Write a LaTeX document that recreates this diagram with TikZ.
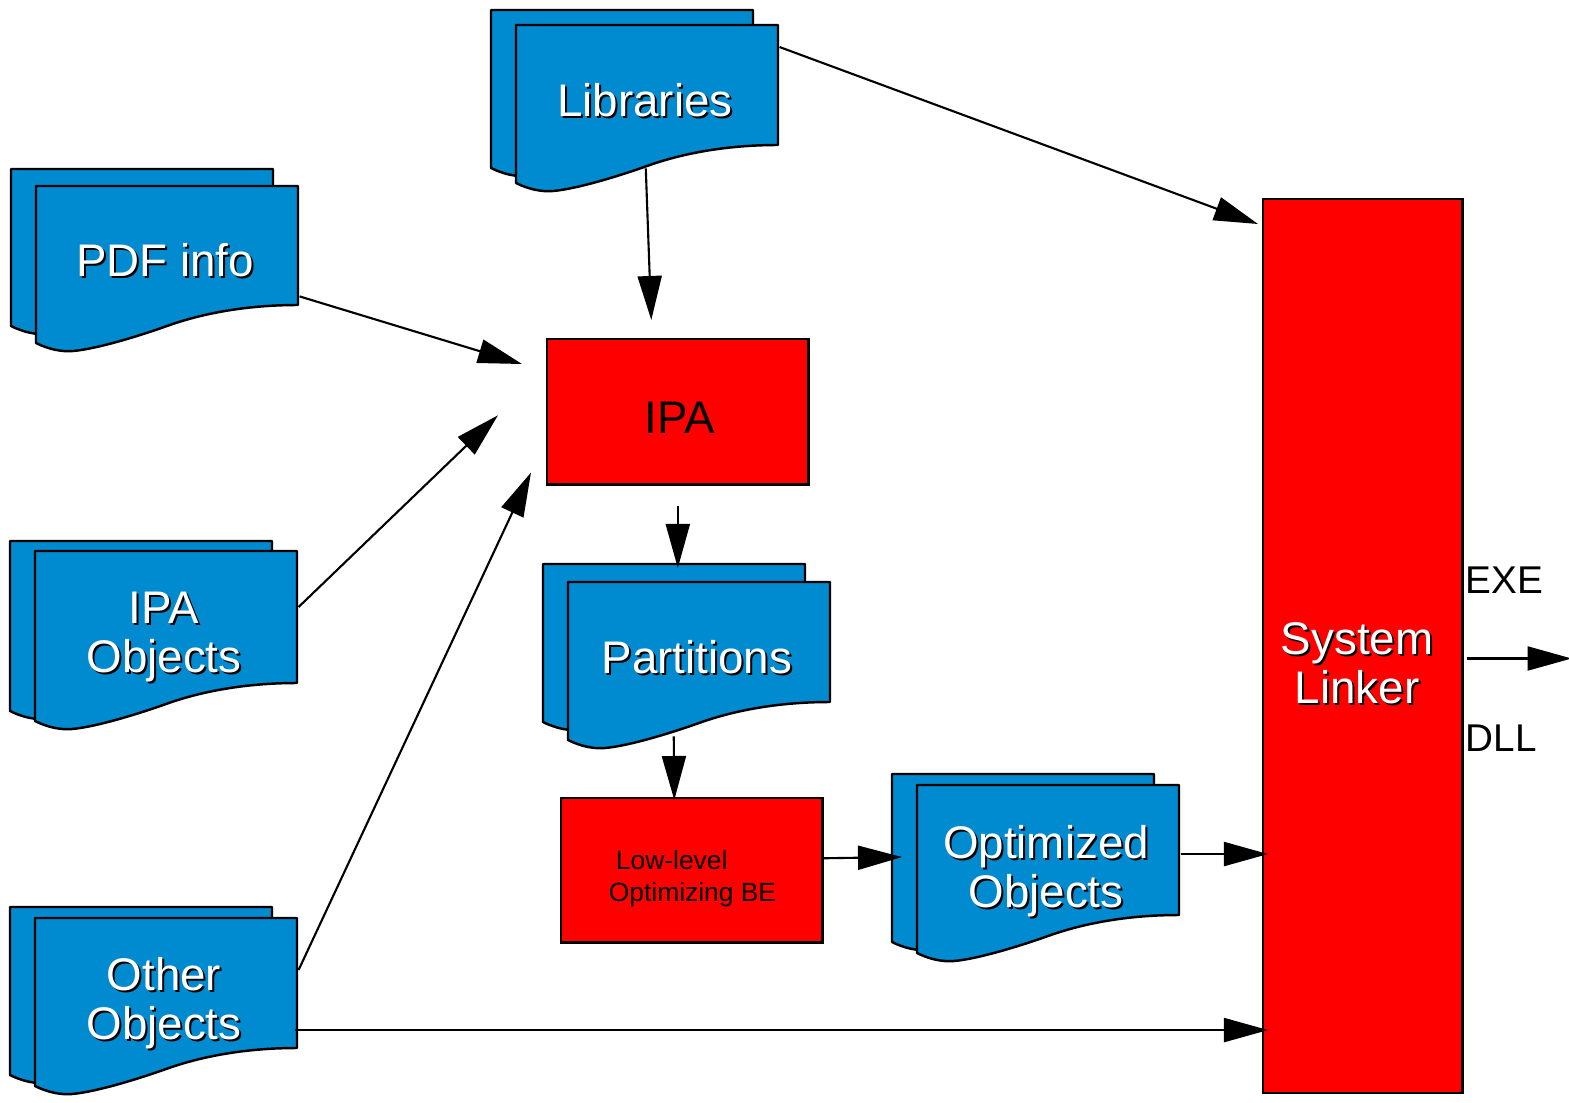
\documentclass[tikz,border=0pt]{standalone}
\usepackage{fontspec}
\setmainfont{Liberation Sans}
\usepackage{tikz}
\usetikzlibrary{arrows.meta}
\definecolor{docblue}{RGB}{0,138,207}

\newcommand{\SheetPath}[1]{(0,0) -- (262,0) -- (262,#1)
  .. controls (215,#1) and (170,#1+7) .. (131,#1+21)
  .. controls (100,#1+32) and (60,#1+44) .. (37,#1+46)
  .. controls (25,#1+47) and (12,#1+44) .. (0,#1+38) -- cycle}

\newcommand{\DocStack}[7]{%
  \begin{scope}[shift={(#2,#3)}]
    \draw[SheetStyle,shift={(-25,-#5)}] \SheetPath{#4};
    \draw[SheetStyle] \SheetPath{#4};
    \node[inner sep=0pt,minimum width=2.62cm,minimum height=#4*0.01cm,anchor=north west] (#1) at (0,0) {};
    \node[ShadowStyle] at (131,#6+2) {#7};
    \node[LabelStyle] (#1-label) at (129,#6) {#7};
  \end{scope}}

\begin{document}
\begin{tikzpicture}[x=0.01cm,y=-0.01cm]
  \tikzstyle{SheetStyle}=[draw=black,fill=docblue,line width=0.7pt,line join=round]
  \tikzstyle{LabelStyle}=[white,align=center,font=\fontsize{13}{14}\selectfont,inner sep=0pt]
  \tikzstyle{ShadowStyle}=[LabelStyle,black]
  \tikzstyle{BoxStyle}=[draw=black,fill=red,line width=0.7pt,inner sep=0pt,anchor=north west]
  \tikzstyle{EdgeStyle}=[line width=0.6pt,-{Triangle[length=0.44cm,width=0.24cm]}]
  \useasboundingbox (0,0) rectangle (1569,1103);
  \DocStack{lib}{516}{25}{120}{15}{75}{Libraries}
  \DocStack{pdf}{36}{186}{119}{17}{74}{PDF info}
  \DocStack{iobj}{35}{551}{132}{10}{86}{IPA\\Objects}
  \DocStack{oobj}{35}{918}{130}{11}{85}{Other\\Objects}
  \DocStack{parts}{568}{582}{120}{18}{75}{Partitions}
  \DocStack{opt}{917}{785}{130}{11}{86}{Optimized\\Objects}
  \node[BoxStyle,minimum width=2.61cm,minimum height=1.45cm] (ipa) at (546,338) {};
  \node[font=\fontsize{13}{14}\selectfont,inner sep=0pt] (ipa-label) at (680,418) {IPA};
  \node[BoxStyle,minimum width=2.61cm,minimum height=1.44cm] (be) at (560,797) {};
  \node[align=left,inner sep=0pt,font=\fontsize{7.5}{9.1}\selectfont] (be-label) at (692.5,879) {\hspace{2pt}Low-level\\Optimizing BE};
  \node[BoxStyle,minimum width=1.99cm,minimum height=8.93cm] (sl) at (1262,198) {};
  \node[ShadowStyle] at (1359,665) {System\\Linker};
  \node[LabelStyle] (sl-label) at (1357,663) {System\\Linker};
  \node[anchor=west,inner sep=0pt,font=\fontsize{11}{13}\selectfont] (exe) at (1465,580) {EXE};
  \node[anchor=west,inner sep=0pt,font=\fontsize{11}{13}\selectfont] (dll) at (1465,738) {DLL};
  \draw[EdgeStyle] ([yshift=-0.22cm]lib.north east) -- ([xshift=-0.04cm,yshift=-0.26cm]sl.north west);
  \draw[EdgeStyle] ([xshift=-0.02cm,yshift=-0.22cm]lib.south) -- ([xshift=-0.265cm,yshift=0.18cm]ipa.north);
  \draw[EdgeStyle] ([yshift=0.1cm]pdf.south east) -- ([xshift=-0.24cm,yshift=-0.26cm]ipa.north west);
  \draw[EdgeStyle] ([yshift=-0.56cm]iobj.north east) -- ([xshift=-0.48cm,yshift=-0.035cm]ipa.west);
  \draw[EdgeStyle] ([yshift=-0.52cm]oobj.north east) -- ([xshift=-0.15cm,yshift=0.13cm]ipa.south west);
  \draw[EdgeStyle,shorten >=-0.06cm] ([xshift=-0.04cm,yshift=-1.12cm]oobj.north east) coordinate (oo) -- (oo -| sl.west);
  \draw[EdgeStyle,shorten <=0.2cm,shorten >=0.14cm] (ipa.south) -- (ipa.south |- parts.north);
  \draw[EdgeStyle] ([xshift=-0.26cm,yshift=-0.33cm]parts.south) -- ([xshift=-0.175cm,yshift=-0.03cm]be.north);
  \draw[EdgeStyle] ([yshift=0.12cm]be.east) -- ([xshift=-0.15cm,yshift=-0.72cm]opt.north west);
  \draw[EdgeStyle,shorten >=-0.06cm] ([yshift=-0.69cm]opt.north east) coordinate (oe) -- (oe -| sl.west);
  \draw[EdgeStyle] ([xshift=0.03cm,yshift=-0.125cm]sl.east) -- ++(105,0);
\end{tikzpicture}
\end{document}
